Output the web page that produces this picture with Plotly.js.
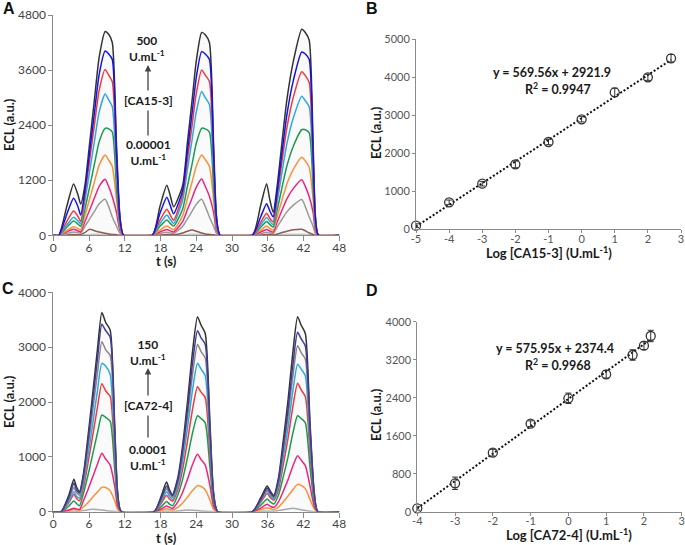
<!DOCTYPE html>
<html>
<head>
<meta charset="utf-8">
<script src="https://cdn.plot.ly/plotly-3.0.1.min.js"></script>
<style>html,body{margin:0;padding:0;background:#fff;}#chart{width:685px;height:545px;}</style>
</head>
<body>
<div id="chart"></div>
<script>
// ---------- Panel A: ECL transients for CA15-3 ----------
const tA = [0, 0.9, 2.3, 3.4, 4.1, 4.6, 5.3, 6.1, 6.9, 7.7, 8.7, 9.3, 9.9, 10.6, 11.2, 11.8,
  16.6, 17.9, 19.05, 19.6, 20.2, 21.7, 22.5, 23.3, 24.0, 24.9, 25.5, 26.2, 26.9, 27.4, 28.0,
  33.4, 34.8, 35.8, 36.3, 36.9, 37.6, 38.4, 39.2, 40.3, 41.7, 42.3, 42.95, 43.6, 44.0, 44.5,
  48];
const aBlack = [0,0,650,1120,900,680,1080,2010,2950,3880,4440,4380,4200,2000,400,0,
  0,630,1090,880,620,1080,2010,2950,3800,4420,4370,4200,2000,400,0,
  0,650,1125,800,500,1100,2050,2950,3800,4490,4420,4250,2000,400,0,
  0];
const aBlue = [0,0,470,806,640,440,976,1817,2667,3508,4015,3950,3830,1800,360,0,
  0,480,830,660,470,978,1821,2673,3443,4003,3950,3830,1800,360,0,
  0,400,690,540,400,979,1825,2626,3382,3995,3950,3830,1800,360,0,
  0];
const aRed = [0,0,310,530,420,300,879,1636,2401,3158,3615,3490,3350,1630,330,0,
  0,330,570,450,330,880,1638,2404,3097,3604,3490,3350,1630,330,0,
  0,280,480,380,290,873,1628,2342,3017,3565,3480,3330,1630,330,0,
  0];
const aCyan = [0,0,230,392,320,247,748,1393,2044,2689,3078,2950,2800,1390,280,0,
  0,255,440,350,260,765,1423,2089,2690,3131,3000,2850,1390,280,0,
  0,225,390,310,230,743,1384,1991,2565,3030,2930,2800,1390,280,0,
  0];
const aGreen = [0,0,180,312,250,190,567,1055,1549,2037,2330,2320,2250,1050,210,0,
  0,195,334,265,200,570,1061,1558,2006,2332,2320,2250,1050,210,0,
  0,175,300,240,180,563,1050,1510,1946,2300,2300,2230,1050,210,0,
  0];
const aOrange = [0,0,110,189,150,116,426,792,1162,1529,1750,1640,1500,790,160,0,
  0,115,200,160,120,428,796,1168,1505,1750,1650,1500,790,160,0,
  0,115,200,150,110,417,777,1118,1440,1700,1620,1480,790,160,0,
  0];
const aMagenta = [0,0,75,131,100,73,297,553,811,1067,1220,1060,840,500,100,0,
  0,72,125,98,75,298,555,814,1049,1225,1070,850,500,100,0,
  0,72,125,95,70,296,551,794,1022,1210,1060,840,500,100,0,
  0];
const aGray = [0,0,40,73,58,44,191,356,522,687,784,624,400,200,40,0,
  0,38,65,52,42,192,358,525,676,785,630,400,200,40,0,
  0,38,65,50,40,190,355,510,657,778,620,400,200,40,0,
  0];
const aBrown = [0,0,5,15,12,10,60,130,100,70,45,30,20,10,0,0,
  0,5,15,12,10,50,90,115,90,50,30,20,10,0,0,
  0,5,15,12,10,30,60,90,120,130,100,50,20,0,0,
  0];
const aLight = [0,0,3,8,6,5,10,18,22,25,22,18,12,5,0,0,
  0,3,8,6,5,10,18,22,25,22,18,12,5,0,0,
  0,3,8,6,5,10,18,22,25,22,18,12,5,0,0,
  0];

// ---------- Panel C: ECL transients for CA72-4 ----------
const tC = [0, 1.3, 2.6, 3.45, 3.9, 4.4, 5.1, 5.8, 6.5, 7.4, 8.15, 8.8, 9.55, 10.3, 10.8, 11.4,
  16.9, 18.1, 19.0, 19.5, 20.0, 20.9, 21.7, 22.55, 23.4, 24.2, 24.8, 25.5, 26.3, 26.9, 27.6,
  33.4, 34.8, 35.9, 36.4, 37.0, 37.8, 38.6, 39.4, 40.2, 41.0, 41.6, 42.3, 43.1, 43.8, 44.4,
  48];
const cBlack = [0,0,300,590,450,370,720,1350,2036,2950,3630,3450,3310,1600,350,0,
  0,280,540,400,304,620,1200,2036,2950,3555,3400,3250,1600,350,0,
  0,250,468,380,300,620,1300,2036,2900,3555,3400,3250,1600,350,0,
  0];
const cNavy = [0,0,260,520,400,340,680,1270,1915,2770,3417,3300,3180,1500,330,0,
  0,240,470,370,290,575,1115,1890,2740,3300,3170,3050,1480,320,0,
  0,220,430,350,280,570,1195,1875,2670,3270,3150,3020,1470,320,0,
  0];
const cGray = [0,0,220,440,350,300,615,1150,1740,2520,3100,2950,2850,1370,300,0,
  0,210,420,330,260,530,1030,1745,2530,3050,2920,2800,1370,300,0,
  0,200,400,320,250,530,1105,1730,2470,3025,2900,2780,1360,300,0,
  0];
const cCyan = [0,0,185,370,280,250,540,1005,1515,2200,2705,2650,2500,1190,260,0,
  0,180,365,280,220,470,915,1550,2245,2705,2600,2480,1220,270,0,
  0,190,377,290,230,470,985,1540,2195,2690,2600,2480,1210,265,0,
  0];
const cRed = [0,0,160,320,240,200,460,870,1310,1900,2335,2200,2100,1030,225,0,
  0,150,300,230,190,400,770,1305,1890,2280,2180,2080,1030,225,0,
  0,170,334,260,210,410,855,1340,1910,2340,2220,2100,1050,230,0,
  0];
const cGreen = [0,0,100,195,150,110,350,655,990,1430,1763,1720,1650,780,170,0,
  0,90,185,140,110,305,590,1000,1450,1750,1700,1620,790,175,0,
  0,115,231,180,140,305,640,1000,1430,1750,1700,1620,790,175,0,
  0];
const cMagenta = [0,0,30,62,50,40,210,395,600,865,1064,960,850,470,100,0,
  0,50,105,80,60,180,350,600,870,1046,950,850,470,100,0,
  0,65,134,100,80,180,375,585,830,1020,940,840,460,100,0,
  0];
const cOrange = [0,0,20,44,35,30,90,165,250,360,444,440,380,200,45,0,
  0,25,55,40,30,80,160,270,390,474,460,400,210,45,0,
  0,35,73,55,40,85,180,285,400,498,480,420,220,50,0,
  0];
const cLight = [0,0,5,10,8,8,20,35,45,40,30,20,10,5,0,0,
  0,4,8,6,6,12,22,30,25,20,14,8,4,0,0,
  0,5,10,8,8,20,35,50,61,50,35,20,8,0,0,
  0];

// ---------- Panel B: calibration CA15-3 ----------
const bX = [-5, -4, -3, -2, -1, 0, 1, 2, 2.7];
const bY = [95, 710, 1200, 1710, 2297, 2895, 3605, 4000, 4500];
const bErr = [50, 60, 60, 90, 70, 70, 110, 80, 100];
const bFitX = [-5, 2.7];
const bFitY = [74, 4460];
const bXTickVals = [-5, -4, -3, -2, -1, 0, 1, 2, 3];
const bXTickText = ['-5', '-4', '-3', '-2', '-1', '0', '1', '2', '3'];

// ---------- Panel D: calibration CA72-4 ----------
const dX = [-4, -3, -2, -1, 0, 1, 1.7, 2, 2.18];
const dY = [72, 598, 1242, 1853, 2387, 2893, 3299, 3495, 3699];
const dErr = [40, 130, 70, 60, 110, 80, 110, 80, 120];
const dFitX = [-4, 2.18];
const dFitY = [71, 3630];
const dXTickVals = [-4, -3, -2, -1, 0, 1, 2, 3];
const dXTickText = ['-4', '-3', '-2', '-1', '0', '1', '2', '3'];

// ---------- build ----------
const W = 685, H = 545;
const FONT = 'Lato, "Open Sans", sans-serif';
const colA = {black:'#333333', blue:'#1414e6', red:'#f23a3a', cyan:'#29abe2', green:'#1b9a52',
  orange:'#f7913a', magenta:'#e8267e', gray:'#9a9a9a', brown:'#8b5e50', light:'#c8c8c8'};
const colC = {black:'#333333', navy:'#3d3d99', gray:'#8e8282', cyan:'#29abe2', red:'#f23a3a',
  green:'#1b9a52', magenta:'#e8267e', orange:'#f7913a', light:'#a8a8a8'};

function curve(x, y, color, xa, ya, fill) {
  const tr = {x: x, y: y, type: 'scatter', mode: 'lines', xaxis: xa, yaxis: ya,
    line: {color: color, width: 1.5, shape: 'spline', smoothing: 0.6}, hoverinfo: 'skip'};
  if (fill) { tr.fill = 'tozeroy'; tr.fillcolor = 'rgba(0,0,0,0.018)'; }
  return tr;
}

const traces = [
  curve(tA, aBlack, colA.black, 'x', 'y', true),
  curve(tA, aLight, colA.light, 'x', 'y'),
  curve(tA, aBrown, colA.brown, 'x', 'y'),
  curve(tA, aGray, colA.gray, 'x', 'y'),
  curve(tA, aMagenta, colA.magenta, 'x', 'y'),
  curve(tA, aOrange, colA.orange, 'x', 'y'),
  curve(tA, aGreen, colA.green, 'x', 'y'),
  curve(tA, aCyan, colA.cyan, 'x', 'y'),
  curve(tA, aRed, colA.red, 'x', 'y'),
  curve(tA, aBlue, colA.blue, 'x', 'y'),

  curve(tC, cBlack, colC.black, 'x3', 'y3', true),
  curve(tC, cLight, colC.light, 'x3', 'y3'),
  curve(tC, cOrange, colC.orange, 'x3', 'y3'),
  curve(tC, cMagenta, colC.magenta, 'x3', 'y3'),
  curve(tC, cGreen, colC.green, 'x3', 'y3'),
  curve(tC, cRed, colC.red, 'x3', 'y3'),
  curve(tC, cCyan, colC.cyan, 'x3', 'y3'),
  curve(tC, cGray, colC.gray, 'x3', 'y3'),
  curve(tC, cNavy, colC.navy, 'x3', 'y3'),

  {x: bFitX, y: bFitY, type: 'scatter', mode: 'lines', xaxis: 'x2', yaxis: 'y2',
   line: {color: '#111', width: 2, dash: '2px,2px'}, cliponaxis: false},
  {x: bX, y: bY, type: 'scatter', mode: 'markers', xaxis: 'x2', yaxis: 'y2', cliponaxis: false,
   marker: {symbol: 'circle-open', size: 9, color: '#333', line: {width: 1.3, color: '#333'}},
   error_y: {type: 'data', array: bErr, color: '#333', thickness: 1, width: 3}},

  {x: dFitX, y: dFitY, type: 'scatter', mode: 'lines', xaxis: 'x4', yaxis: 'y4',
   line: {color: '#111', width: 2, dash: '2px,2px'}, cliponaxis: false},
  {x: dX, y: dY, type: 'scatter', mode: 'markers', xaxis: 'x4', yaxis: 'y4', cliponaxis: false,
   marker: {symbol: 'circle-open', size: 9, color: '#333', line: {width: 1.3, color: '#333'}},
   error_y: {type: 'data', array: dErr, color: '#333', thickness: 1, width: 3}}
];

function ax(extra) {
  return Object.assign({showgrid: false, zeroline: false, showline: true, linecolor: '#8a8a8a',
    linewidth: 1, ticks: 'outside', ticklen: 4, tickcolor: '#8a8a8a', fixedrange: true,
    tickfont: {family: FONT, size: 12, color: '#444'}}, extra);
}
function dx(px) { return px / W; }
function dy(py) { return 1 - py / H; }
const tfA = {family: FONT, size: 12, color: '#444'};
const tfB = {family: FONT, size: 11, color: '#555'};

const layout = {
  width: W, height: H, margin: {l: 0, r: 0, t: 0, b: 0},
  paper_bgcolor: '#fff', plot_bgcolor: 'rgba(0,0,0,0)', showlegend: false,
  xaxis: ax({domain: [dx(53.3), dx(339.3)], range: [0, 48], tick0: 0, dtick: 6, anchor: 'y',
    ticklen: 5, ticklabelstandoff: -4, tickfont: tfA}),
  yaxis: ax({domain: [dy(235.3), dy(15)], range: [0, 4800], tick0: 0, dtick: 1200, anchor: 'x', tickfont: tfA}),
  xaxis2: ax({domain: [dx(416), dx(681)], range: [-5, 3], tickmode: 'array',
    tickvals: bXTickVals, ticktext: bXTickText, anchor: 'y2', ticklen: 3, ticklabelstandoff: -4, tickfont: tfB}),
  yaxis2: ax({domain: [dy(229.3), dy(39.3)], range: [0, 5000], tick0: 0, dtick: 1000, anchor: 'x2',
    ticklen: 3, tickfont: tfB}),
  xaxis3: ax({domain: [dx(53.3), dx(339.3)], range: [0, 48], tick0: 0, dtick: 6, anchor: 'y3',
    ticklen: 5, ticklabelstandoff: -4, tickfont: tfA}),
  yaxis3: ax({domain: [dy(511.7), dy(292.3)], range: [0, 4000], tick0: 0, dtick: 1000, anchor: 'x3', tickfont: tfA}),
  xaxis4: ax({domain: [dx(417.3), dx(681.7)], range: [-4, 3], tickmode: 'array',
    tickvals: dXTickVals, ticktext: dXTickText, anchor: 'y4', ticklen: 3, ticklabelstandoff: -4, tickfont: tfB}),
  yaxis4: ax({domain: [dy(511.7), dy(321.7)], range: [0, 4000], tick0: 0, dtick: 800, anchor: 'x4',
    ticklen: 3, tickfont: tfB}),
  annotations: []
};

function txt(text, px, py, size, opts) {
  return Object.assign({text: text, x: dx(px), y: dy(py), xref: 'paper', yref: 'paper',
    showarrow: false, xanchor: 'center', yanchor: 'middle',
    font: {family: FONT, size: size, color: '#1a1a1a', weight: 'bold'}}, opts || {});
}
function arrow(px, pyTip, pyTail) {
  return {text: '', x: dx(px), y: dy(pyTip), xref: 'paper', yref: 'paper', showarrow: true,
    ax: 0, ay: pyTail - pyTip, axref: 'pixel', ayref: 'pixel',
    arrowhead: 2, arrowsize: 1, arrowwidth: 1.3, arrowcolor: '#444'};
}
const LETTER = {family: 'Liberation Sans, Arial, sans-serif', size: 16, color: '#111', weight: 'bold'};
const A = layout.annotations;
// panel letters
A.push(txt('A', 9, 9, 16, {font: LETTER}));
A.push(txt('B', 372, 9, 16, {font: LETTER}));
A.push(txt('C', 8, 288, 16, {font: LETTER}));
A.push(txt('D', 372, 290, 16, {font: LETTER}));
// axis titles
A.push(txt('ECL (a.u.)', 9, 125, 13, {textangle: -90}));
A.push(txt('t (s)', 166.7, 261, 13));
A.push(txt('ECL (a.u.)', 376, 133, 13, {textangle: -90}));
A.push(txt('Log [CA15-3] (U.mL<sup>-1</sup>)', 549, 253, 13));
A.push(txt('ECL (a.u.)', 9, 402, 13, {textangle: -90}));
A.push(txt('t (s)', 166.7, 538, 13));
A.push(txt('ECL (a.u.)', 376, 415, 13, {textangle: -90}));
A.push(txt('Log [CA72-4] (U.mL<sup>-1</sup>)', 569, 534, 13));
// panel A concentration arrow
A.push(arrow(148, 65, 137));
A.push(txt('500<br>U.mL<sup>-1</sup>', 147, 48, 12));
A.push(txt('[CA15-3]', 148, 100, 12, {bgcolor: '#fff', borderpad: 2}));
A.push(txt('0.00001<br>U.mL<sup>-1</sup>', 148, 153, 12));
// panel C concentration arrow
A.push(arrow(148, 368, 439));
A.push(txt('150<br>U.mL<sup>-1</sup>', 148, 352, 12));
A.push(txt('[CA72-4]', 148, 405, 12, {bgcolor: '#fff', borderpad: 2}));
A.push(txt('0.0001<br>U.mL<sup>-1</sup>', 148, 457, 12));
// regression equations
A.push(txt('y = 569.56x + 2921.9', 552, 73, 12.5));
A.push(txt('R<sup>2</sup> = 0.9947', 558, 89, 12.5));
A.push(txt('y = 575.95x + 2374.4', 555, 348, 12.5));
A.push(txt('R<sup>2</sup> = 0.9968', 558, 364, 12.5));

Plotly.newPlot('chart', traces, layout, {staticPlot: true, displayModeBar: false});
</script>
</body>
</html>
